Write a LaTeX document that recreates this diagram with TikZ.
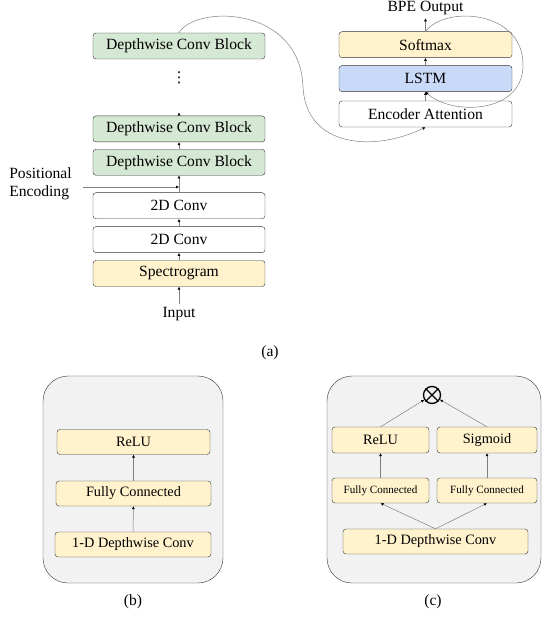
\documentclass[tikz,border=0pt]{standalone}
\usepackage{fontspec}
\setmainfont{Liberation Serif}
\newfontfamily\symfont{DejaVu Sans}
\usepackage{tikz}
\usetikzlibrary{positioning,arrows.meta}

\definecolor{convgreen}{HTML}{D5E8D4}
\definecolor{layeryellow}{HTML}{FFF2CC}
\definecolor{lstmblue}{HTML}{C9DAF8}
\definecolor{panelgray}{HTML}{F2F2F2}
\definecolor{edgegray}{HTML}{333333}

\newcommand{\bigfont}{\fontsize{15.6}{18}\selectfont}
\newcommand{\midfont}{\fontsize{14.3}{16}\selectfont}
\newcommand{\smallfont}{\fontsize{11.1}{13}\selectfont}

\begin{document}
\begin{tikzpicture}[x=1pt, y=-1pt, node distance=7.5pt, >={Latex[length=3pt,width=3pt,color=black]}]
    % Define the styles for each node
    \tikzstyle{layer} = [rectangle, draw=edgegray, rounded corners=3pt, inner sep=0pt, minimum width=172pt, minimum height=26pt, font=\bigfont]
    \tikzstyle{small} = [rectangle, draw=edgegray, rounded corners=3pt, inner sep=0pt, minimum height=25pt, font=\midfont, fill=layeryellow]
    \tikzstyle{panel} = [draw=edgegray, fill=panelgray, rounded corners=25pt]
    \tikzstyle{flow} = [->, draw=gray, line width=0.5pt]

    \useasboundingbox (0,0) rectangle (541,628);

    % Encoder stack
    \node [layer, fill=layeryellow] (spec) at (179,273.5) {Spectrogram};
    \node [layer, above=of spec] (conv1) {2D Conv};
    \node [layer, above=of conv1] (conv2) {2D Conv};
    \node [layer, fill=convgreen, above=17pt of conv2] (dcb1) {Depthwise Conv Block};
    \node [layer, fill=convgreen, above=7pt of dcb1] (dcb2) {Depthwise Conv Block};
    \node [font=\symfont\fontsize{15}{18}\selectfont] (dots) at (179,78) {⋮};
    \node [layer, fill=convgreen] (dcbN) at (179,46) {Depthwise Conv Block};
    \node [font=\bigfont] (input) at (179,314) {Input};
    \node [font=\bigfont, align=left, inner sep=0pt] (posenc) at (40.5,183.5) {Positional\\Encoding};
    \coordinate (more) at (179,112.5);
    \coordinate (peIn) at (83,187);

    % Decoder stack
    \node [layer, minimum width=173pt] (enc) at (425.5,114) {Encoder Attention};
    \node [layer, minimum width=173pt, fill=lstmblue, above=9pt of enc] (lstm) {LSTM};
    \node [layer, minimum width=173pt, fill=layeryellow, above=of lstm] (soft) {Softmax};
    \node [font=\bigfont] (bpe) at (425.5,8) {BPE Output};

    % Arrows of the encoder
    \draw [flow] (input) -- (spec);
    \draw [flow] (spec) -- (conv1);
    \draw [flow] (conv1) -- (conv2);
    \draw [flow] (conv2) -- (dcb1);
    \draw [flow] (dcb1) -- (dcb2);
    \draw [flow] (dcb2) -- (more);
    \draw [flow] (peIn) -- (peIn -| conv2.north);

    % Arrows of the decoder
    \draw [flow] (enc) -- (lstm);
    \draw [flow] (lstm) -- (soft);
    \draw [flow] (soft) -- (bpe);

    % Encoder output into attention, and the output fed back
    \draw [flow] (dcbN.north) .. controls (195,5) and (300,5) .. (303,87)
        .. controls (306,148) and (375,152) .. (enc.south);
    \draw [flow] (soft.north) .. controls (445,5) and (525,10) .. (523,67)
        .. controls (521,115) and (450,115) .. (lstm.south);

    \node [font=\bigfont] (capA) at (270,353) {(a)};

    % Depthwise conv block
    \draw [panel] (43,376) rectangle (223,583);
    \node [small, minimum width=153pt] (reluB) at (133.5,442) {ReLU};
    \node [small, minimum width=155pt] (fcB) at (133.5,493.5) {Fully Connected};
    \node [small, minimum width=156pt] (dwB) at (133,544.5) {1-D Depthwise Conv};
    \draw [flow] (dwB) -- (fcB);
    \draw [flow] (fcB) -- (reluB);
    \node [font=\bigfont] (capB) at (133,602) {(b)};

    % Gated depthwise conv block
    \draw [panel] (327,376) rectangle (541,583);
    \node [circle, draw=black, line width=1.3pt, minimum size=17pt, inner sep=0pt] (mult) at (432,395) {};
    \draw [line width=1.1pt] (mult.45) -- (mult.225) (mult.135) -- (mult.315);
    \node [small, minimum width=97pt, minimum height=26pt] (reluC) at (380.5,440) {ReLU};
    \node [small, minimum width=100pt, minimum height=26pt] (sigC) at (487,440) {Sigmoid};
    \node [small, minimum width=97pt, font=\smallfont] (fcL) at (380.5,490.5) {Fully Connected};
    \node [small, minimum width=100pt, font=\smallfont] (fcR) at (487,490.5) {Fully Connected};
    \node [small, minimum width=185pt] (dwC) at (435.5,541.5) {1-D Depthwise Conv};
    \draw [flow] (dwC.north) -- (fcL.south);
    \draw [flow] (dwC.north) -- (fcR.south);
    \draw [flow] (fcL) -- (reluC);
    \draw [flow] (fcR) -- (sigC);
    \draw [flow] (reluC.north) -- (mult);
    \draw [flow] (sigC.north) -- (mult);
    \node [font=\bigfont] (capC) at (433,602) {(c)};
\end{tikzpicture}
\end{document}
